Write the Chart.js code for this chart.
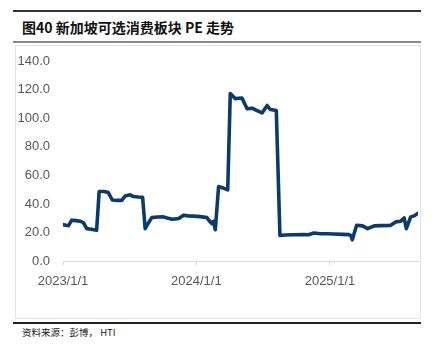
<!DOCTYPE html>
<html>
<head>
<meta charset="utf-8">
<script src="https://cdn.jsdelivr.net/npm/chart.js@4"></script>
<style>
  body { margin: 0; background: #fff; }
  #page { position: relative; width: 435px; height: 359px; }
  .rule { position: absolute; left: 13px; width: 408px; }
  #title { position: absolute; left: 22px; top: 17px; font-family: "Noto Sans CJK SC"; font-weight: bold; font-size: 14px; color: #111; }
  #box { position: absolute; left: 15px; top: 45px; width: 404px; height: 272px; border: 1px solid #e3e3e3; }
  #note { position: absolute; left: 22px; top: 325px; font-family: "Noto Sans CJK SC"; font-size: 9.5px; color: #222; }
</style>
</head>
<body>
<div id="page">
  <div class="rule" style="top:10px;height:1.5px;background:#333"></div>
  <div id="title">图40 新加坡可选消费板块 PE 走势</div>
  <div class="rule" style="top:41px;height:2px;background:#8a8a8a"></div>
  <div id="box"><canvas id="peChart" width="404" height="272"></canvas></div>
  <div class="rule" style="top:322px;height:1.5px;background:#222"></div>
  <div id="note">资料来源：彭博， HTI</div>
</div>
<script>
const dates = [
  "2023-01-02","2023-01-09","2023-01-16","2023-01-25","2023-02-06","2023-02-17","2023-02-26","2023-03-07",
  "2023-03-19","2023-04-03","2023-04-10","2023-04-24","2023-05-05","2023-05-16","2023-05-29","2023-06-11",
  "2023-06-20","2023-07-04","2023-07-13","2023-07-26","2023-08-07","2023-08-14","2023-08-22","2023-09-01",
  "2023-09-16","2023-10-03","2023-10-13","2023-10-27","2023-11-14","2023-11-27","2023-12-10","2023-12-25",
  "2024-01-12","2024-01-30","2024-02-08","2024-02-13","2024-02-17","2024-02-22","2024-03-02","2024-03-12",
  "2024-03-27","2024-04-03","2024-04-17","2024-04-25","2024-05-05","2024-05-19","2024-06-02","2024-06-14",
  "2024-06-29","2024-07-13","2024-07-22","2024-08-07","2024-08-17","2024-09-01","2024-09-24","2024-10-21",
  "2024-11-03","2024-11-18","2024-12-06","2024-12-25","2025-01-11","2025-02-04","2025-02-22","2025-02-27",
  "2025-03-03","2025-03-15","2025-03-31","2025-04-14","2025-05-02","2025-05-20","2025-06-16","2025-06-30",
  "2025-07-14","2025-07-23","2025-07-29","2025-08-10","2025-08-19","2025-08-29"
];
const peValues = [
  25.7, 25.2, 25.0, 28.8, 28.5, 28.1, 27.0, 22.9,
  22.5, 21.7, 48.8, 48.8, 48.1, 42.9, 42.6, 42.6,
  45.7, 46.5, 45.3, 45.0, 44.8, 22.9, 26.5, 30.6,
  31.0, 31.1, 30.3, 29.5, 30.0, 32.3, 31.8, 31.6,
  31.3, 30.6, 27.6, 26.4, 28.0, 22.1, 52.3, 51.5,
  50.0, 117.2, 113.6, 114.0, 114.1, 106.6, 107.0, 105.5,
  103.7, 108.9, 106.1, 105.4, 18.2, 18.4, 18.6, 18.8,
  18.6, 19.8, 19.3, 19.3, 19.1, 18.9, 18.7, 18.2,
  15.1, 25.2, 24.8, 22.9, 24.8, 25.0, 25.2, 27.6,
  28.0, 30.4, 22.9, 31.1, 31.8, 33.5
];
const xTickDates = ["2023-01-01", "2024-01-01", "2025-01-01"];
const xEndDate = "2025-08-31";

const DAY = 86400000;
const origin = Date.parse(xTickDates[0]);
const toDay = s => Math.round((Date.parse(s) - origin) / DAY);
const fmtDay = d => {
  const t = new Date(origin + d * DAY);
  return t.getUTCFullYear() + "/" + (t.getUTCMonth() + 1) + "/" + t.getUTCDate();
};

const tickFont = { family: "Liberation Sans", size: 13 };

new Chart(document.getElementById("peChart"), {
  type: "line",
  data: {
    datasets: [{
      data: dates.map((d, i) => ({ x: toDay(d), y: peValues[i] })),
      borderColor: "#0d3a6d",
      borderWidth: 3.6,
      pointRadius: 0,
      tension: 0,
      borderJoinStyle: "round",
      borderCapStyle: "round"
    }]
  },
  options: {
    responsive: false,
    animation: false,
    layout: { padding: { left: 0, right: 2, top: 15, bottom: 21 } },
    plugins: { legend: { display: false }, tooltip: { enabled: false } },
    scales: {
      x: {
        type: "linear",
        min: 0,
        max: toDay(xEndDate) - 1,
        afterBuildTicks: axis => { axis.ticks = xTickDates.map(s => ({ value: toDay(s) })); },
        afterFit: axis => { axis.paddingLeft = 0; axis.paddingRight = 0; },
        ticks: { font: tickFont, color: "#595959", maxRotation: 0, autoSkip: false, padding: 8, callback: v => fmtDay(v) },
        grid: { drawOnChartArea: false, color: "#d9d9d9", tickLength: 4 },
        border: { color: "#d9d9d9" }
      },
      y: {
        min: 0,
        max: 140,
        afterFit: axis => { axis.width = 47; axis.paddingTop = 0; axis.paddingBottom = 0; },
        ticks: { stepSize: 20, font: tickFont, color: "#595959", padding: 13, callback: v => v.toFixed(1) },
        grid: { display: false, drawTicks: false },
        border: { display: false }
      }
    }
  }
});
</script>
</body>
</html>
